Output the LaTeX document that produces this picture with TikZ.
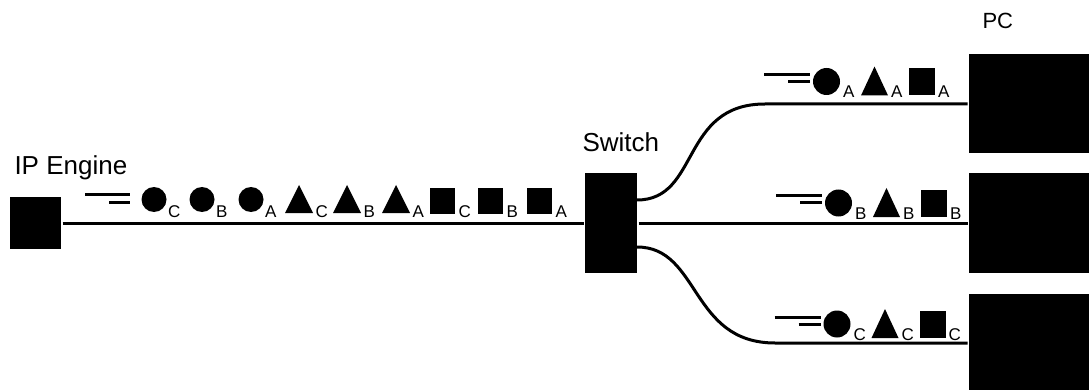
\documentclass[tikz,border=0pt]{standalone}
\usepackage{fontspec}
\setmainfont{Liberation Sans}

\begin{document}
\begin{tikzpicture}[x=1pt,y=-1pt,line width=3pt]
			\tikzstyle{blackbox}=[rectangle,fill=black,inner sep=0pt]
			\tikzstyle{boxlabel}=[anchor=base west,inner sep=0pt,font=\fontsize{26}{30}\selectfont]
			\tikzstyle{sublabel}=[anchor=base west,inner sep=0pt,font=\fontsize{17}{19}\selectfont]
			\useasboundingbox (0,0) rectangle (1089,390);

			\node (engine)[blackbox,minimum width=51pt,minimum height=52pt] at (35.5,223) {};
			\node (switch)[blackbox,minimum width=52pt,minimum height=100pt] at (611,223) {};
			\node (pca)[blackbox,minimum width=120pt,minimum height=99pt] at (1029,104) {};
			\node (pcb)[blackbox,minimum width=120pt,minimum height=99pt] at (1029,223) {};
			\node (pcc)[blackbox,minimum width=120pt,minimum height=99pt] at (1029,343) {};
			\node (enginename)[boxlabel] at (13,175) {IP Engine};
			\node (switchname)[boxlabel] at (581,152) {Switch};
			\node (pcname)[boxlabel,font=\fontsize{22}{26}\selectfont] at (981,29) {PC};

			\coordinate (swa) at (637,200);
			\coordinate (swc) at (637,247);
			\draw (engine) -- (switch);
			\draw (switch) -- (pcb);
			\draw (swa) .. controls (700,200) and (680,104) .. (765,104) -- (pca.west);
			\draw (swc) .. controls (700,247) and (690,343) .. (775,343) -- (pcc.west);

			% packets on the way to the switch
			\draw (85,195) -- (130,195);
			\draw (109,203) -- (130,203);
			\foreach \x/\l in {154/C,202/B,251/A}{
				\fill (\x,199.5) circle (12.5pt);
				\node[sublabel] at (\x+12.5,217) {\l};
			}
			\foreach \x/\l in {299/C,347/B,396/A}{
				\fill (\x-14,213) -- (\x,185) -- (\x+14,213) -- cycle;
				\node[sublabel] at (\x+15,217) {\l};
			}
			\foreach \x/\l in {442.5/C,490.5/B,539.5/A}{
				\fill (\x-12.5,188) rectangle (\x+12.5,214);
				\node[sublabel] at (\x+14.5,217) {\l};
			}

			% packets after the switch
			\foreach \dx/\dy/\l in {-12/-121.5/A,0/0/B,-1.5/121/C}{
				\begin{scope}[shift={(\dx,\dy)}]
					\draw (776,196) -- (822,196);
					\draw (800,203) -- (822,203);
					\fill (838.5,203) circle (13.5pt);
					\node[sublabel] at (853.5,219) {\l};
					\fill (873,217) -- (886.5,188) -- (900,217) -- cycle;
					\node[sublabel] at (901.5,219) {\l};
					\fill (921,190) rectangle (947,217);
					\node[sublabel] at (948.5,219) {\l};
				\end{scope}
			}

		\end{tikzpicture}
\end{document}
